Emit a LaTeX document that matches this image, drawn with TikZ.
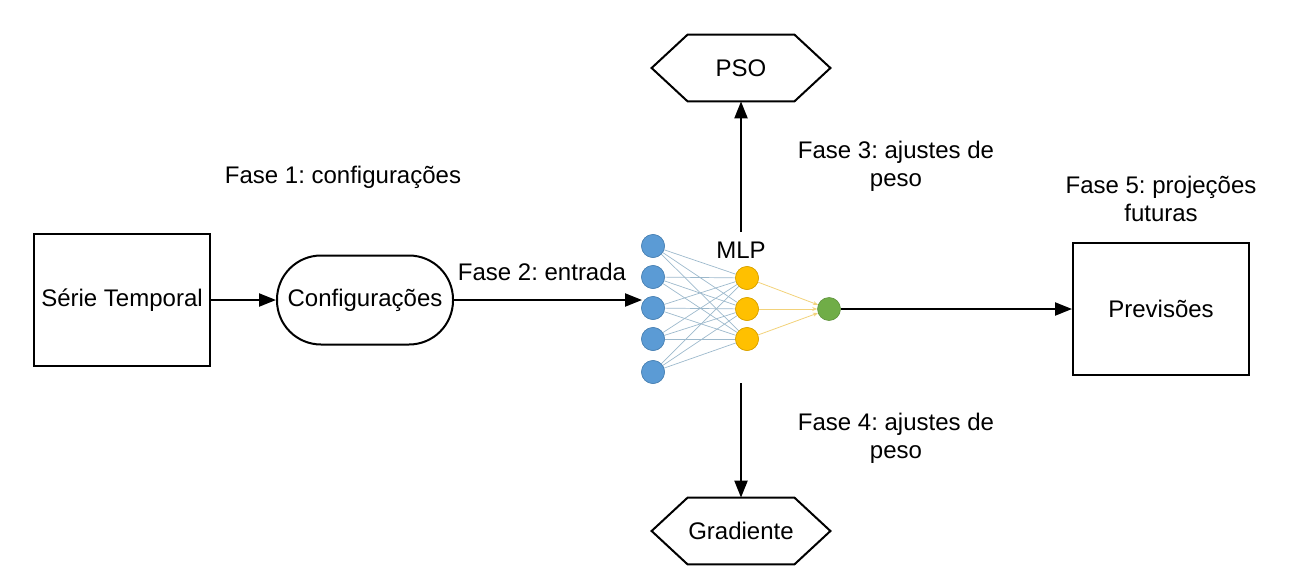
\documentclass[tikz,border=0pt]{standalone}
\usepackage{fontspec}
\setmainfont{Liberation Sans}
\usetikzlibrary{arrows.meta}
\definecolor{nblue}{HTML}{5B9BD5}
\definecolor{nyellow}{HTML}{FFC000}
\definecolor{ngreen}{HTML}{70AD47}
\definecolor{lblue}{HTML}{9DB9CC}
\definecolor{lyellow}{HTML}{F2D27A}
\frenchspacing
\begin{document}
\begin{tikzpicture}[x=0.5pt,y=-0.5pt,
  font=\fontsize{12}{14}\selectfont,
  box/.style={draw,line width=1pt,minimum width=88pt,minimum height=66pt,inner sep=0pt},
  arr/.style={line width=1.1pt,-{Triangle[length=8.5pt,width=6.5pt]}},
  neuron/.style={circle,minimum size=11.5pt,inner sep=0pt},
  bn/.style={neuron,fill=nblue,draw=nblue!85!black,line width=0.3pt},
  yn/.style={neuron,fill=nyellow,draw=nyellow!85!black,line width=0.3pt},
  gn/.style={neuron,fill=ngreen,draw=ngreen!85!black,line width=0.3pt},
  lbl/.style={align=center,inner sep=0pt},
  hexl/.style={line width=1pt}
]
\useasboundingbox (0,0) rectangle (1293,583);
% boxes
\node[box] (serie) at (122,300) {Série Temporal};
\node[draw,line width=1pt,minimum width=88pt,minimum height=44.5pt,rounded corners=22pt,inner sep=0pt] (conf) at (365,300) {Configurações};
\node[box] (prev) at (1161,308.5) {Previsões};
% hexagons
\node[minimum width=89pt,minimum height=33pt,inner sep=0pt] (pso) at (741,68) {PSO};
\node[minimum width=89pt,minimum height=33pt,inner sep=0pt] (grad) at (741,531) {Gradiente};
\foreach \h in {pso,grad}{
  \draw[hexl] (\h.west) -- ([xshift=18pt]\h.north west) -- ([xshift=-18pt]\h.north east) -- (\h.east) -- ([xshift=-18pt]\h.south east) -- ([xshift=18pt]\h.south west) -- cycle;
}
% neurons
\node[bn] (b1) at (653,246) {};
\node[bn] (b2) at (653,277) {};
\node[bn] (b3) at (653,308) {};
\node[bn] (b4) at (653,339) {};
\node[bn] (b5) at (653,372) {};
\node[yn] (y1) at (747,278) {};
\node[yn] (y2) at (747,309) {};
\node[yn] (y3) at (747,339) {};
\node[gn] (g) at (829,309) {};
\foreach \i in {1,...,5}{\foreach \j in {1,2,3}{
  \draw[lblue,line width=0.35pt] (b\i.center) -- (y\j);
}}
\foreach \j in {1,2,3}{\draw[lyellow,line width=0.4pt,-{Stealth[length=2.5pt,width=2pt]}] (y\j) -- (g);}
\foreach \i in {1,...,5}{\node[bn] at (b\i) {};}
\foreach \j in {1,2,3}{\node[yn] at (y\j) {};}
\node[lbl] (mlp) at (741,250) {MLP};
\coordinate (upstart) at (741,232);
\coordinate (downstart) at (741,383);
\coordinate (netin) at (642,300);
% arrows
\draw[arr] (serie.east) -- (conf.west);
\draw[arr] (conf.east) -- (netin);
\draw[arr] (g.east) -- (g.east -| prev.west);
\draw[arr] (upstart) -- (pso.south);
\draw[arr] (downstart) -- (grad.north);
% labels
\node[lbl] (f1) at (343,177) {Fase 1: configurações};
\node[lbl] (f2) at (542,272) {Fase 2: entrada};
\node[lbl] (f3) at (896,166) {Fase 3: ajustes de\\peso};
\node[lbl] (f4) at (896,438) {Fase 4: ajustes de\\peso};
\node[lbl] (f5) at (1161,199) {Fase 5: projeções\\futuras};
\end{tikzpicture}
\end{document}
